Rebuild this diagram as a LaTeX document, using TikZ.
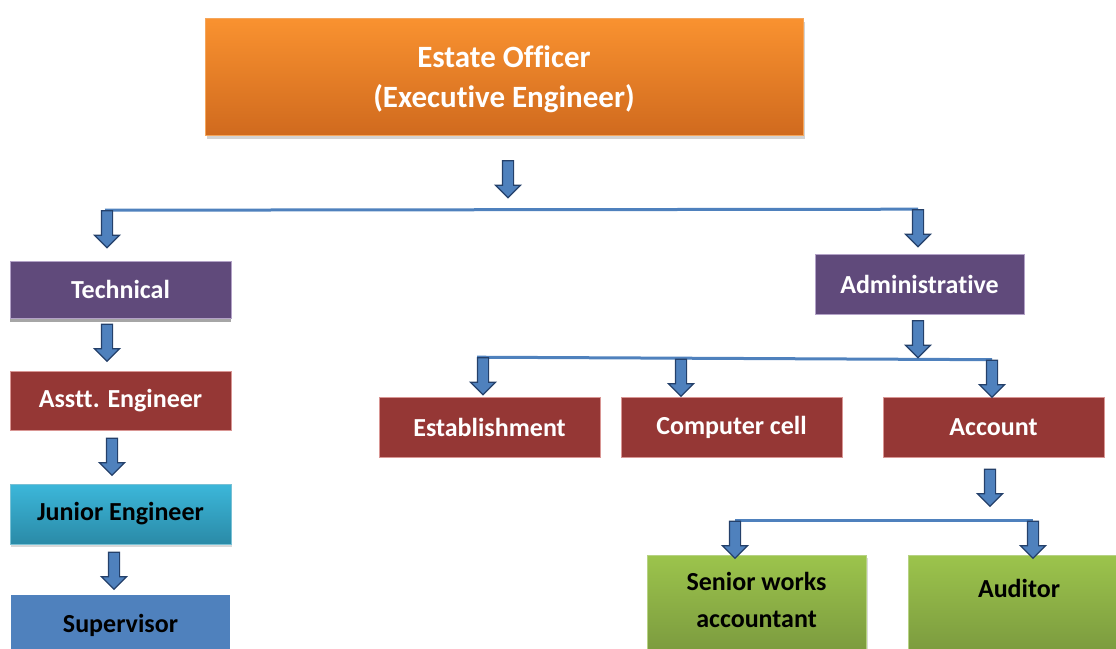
\documentclass[tikz,border=0pt]{standalone}
\usepackage{fontspec}
\setmainfont[Ligatures=NoCommon]{Carlito}
\usetikzlibrary{shapes.arrows}
\usetikzlibrary{shadows}
\usetikzlibrary{backgrounds}

\definecolor{arrowfill}{HTML}{4F81BD}
\definecolor{arrowedge}{HTML}{24406A}
\definecolor{barblue}{HTML}{4F81BD}
\definecolor{purp}{HTML}{604A7B}
\definecolor{purpedge}{HTML}{B3A2C7}
\definecolor{maroon}{HTML}{953735}
\definecolor{maroonedge}{HTML}{D99694}
\definecolor{orangetop}{HTML}{F99230}
\definecolor{orangebot}{HTML}{D06A1E}
\definecolor{orangeedge}{HTML}{F5A65B}
\definecolor{cyantop}{HTML}{3CB7DA}
\definecolor{cyanbot}{HTML}{2A8AA7}
\definecolor{cyanedge}{HTML}{78C0D4}
\definecolor{supblue}{HTML}{4F81BD}
\definecolor{greentop}{HTML}{9CC44C}
\definecolor{greenbot}{HTML}{77953D}
\definecolor{greenedge}{HTML}{B6D283}

\begin{document}
\begin{tikzpicture}[
  x=1pt, y=-1pt,
  every node/.style={minimum width=221pt, minimum height=60pt, align=center, inner sep=0pt,
    font=\fontsize{26}{31}\selectfont\bfseries},
  headbox/.style={top color=orangetop, bottom color=orangebot, draw=orangeedge, line width=1pt,
    text=white, font=\fontsize{31}{40}\selectfont\bfseries, text depth=-9pt,
    drop shadow={shadow xshift=2pt, shadow yshift=-4pt, opacity=0.35}},
  groupbox/.style={fill=purp, draw=purpedge, line width=0.8pt, text=white},
  unitbox/.style={fill=maroon, draw=maroonedge, line width=0.6pt, text=white},
  juniorbox/.style={top color=cyantop, bottom color=cyanbot, draw=cyanedge, line width=1pt,
    text=black, drop shadow={shadow xshift=1pt, shadow yshift=-3pt, opacity=0.3}},
  supbox/.style={fill=supblue, text=black},
  greenbox/.style={top color=greentop, bottom color=greenbot, draw=greenedge, line width=1pt,
    text=black, minimum height=110pt, font=\fontsize{26}{37}\selectfont\bfseries,
    drop shadow={shadow xshift=2pt, shadow yshift=-3pt, opacity=0.3}},
  downarrow/.style={single arrow, shape border rotate=270, fill=arrowfill, draw=arrowedge,
    line width=1.2pt, minimum width=0pt, minimum height=37pt, inner sep=5pt,
    single arrow head extend=7pt, text height=0pt, text depth=0pt},
  bar/.style={draw=barblue, line width=3pt}
]
  \path[use as bounding box, clip] (0,0) rectangle (1116,648);

  \node[headbox, minimum width=598pt, minimum height=117pt] (eo) at (504,76.5)
    {Estate Officer\\(Executive Engineer)};

  \node[groupbox, drop shadow={shadow xshift=0pt, shadow yshift=-4pt, opacity=1, fill=black!35},
    minimum height=57pt] (tech) at (120.5,289.5) {Technical};
  \node[unitbox, minimum height=59pt] (asst) at (120.5,400.5) {Asstt. Engineer};
  \node[juniorbox] (jr) at (120.5,514) {Junior Engineer};
  \node[supbox, minimum width=219pt, minimum height=70pt, text depth=14pt] (sup) at (120.5,630) {Supervisor};

  \node[groupbox, minimum width=209pt] (adm) at (919.5,284) {Administrative};
  \node[unitbox] (est) at (489.5,427) {Establishment};
  \node[unitbox] (comp) at (731.5,427) {Computer cell};
  \node[unitbox] (acc) at (993.5,427) {Account};

  \node[greenbox, minimum width=219pt, text depth=20pt] (swa) at (756.5,610) {Senior works\\accountant};
  \node[greenbox, text depth=44pt] (aud) at (1019,610) {Auditor};

  \node[downarrow] (a0) at (508,176.5) {};
  \node[downarrow] (a1) at (107,226.5) {};
  \node[downarrow] (a2) at (918,225.5) {};
  \node[downarrow] (a3) at (107,340) {};
  \node[downarrow] (a4) at (112,454) {};
  \node[downarrow] (a5) at (114,568) {};
  \node[downarrow] (a6) at (918,336.5) {};
  \node[downarrow] (a7) at (483,373.5) {};
  \node[downarrow] (a8) at (681,375) {};
  \node[downarrow] (a9) at (992,376) {};
  \node[downarrow] (a10) at (990,485) {};
  \node[downarrow] (a11) at (735,537) {};
  \node[downarrow] (a12) at (1033,537) {};

  \begin{pgfonlayer}{background}
    \draw[bar] ([xshift=-2pt]a1.tail) -- (a2.tail);
    \draw[bar] ([xshift=-6pt]a7.tail) -- (a9.tail);
    \draw[bar] (a11.tail) -- (a12.tail);
  \end{pgfonlayer}
\end{tikzpicture}
\end{document}
